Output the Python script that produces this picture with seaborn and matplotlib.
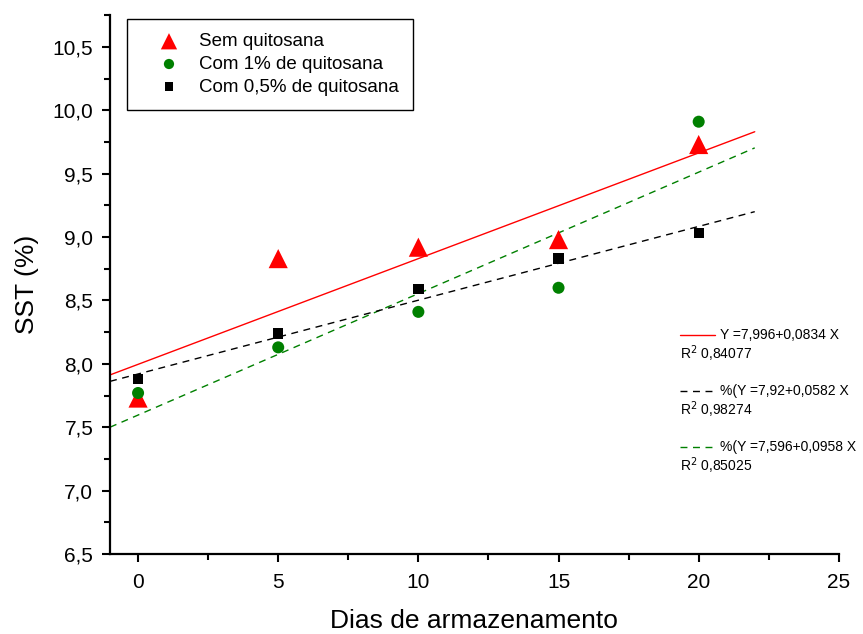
import numpy as np
import pandas as pd
import matplotlib
matplotlib.use("Agg")
import matplotlib.pyplot as plt
from matplotlib.ticker import MultipleLocator, FuncFormatter
import seaborn as sns

# storage days
dias = [0, 5, 10, 15, 20]

# SST (%) per treatment
sem_quitosana = [7.73, 8.83, 8.92, 8.98, 9.73]
com_1 = [7.77, 8.13, 8.41, 8.60, 9.91]
com_05 = [7.88, 8.24, 8.59, 8.83, 9.03]

labels = ["Sem quitosana", "Com 1% de quitosana", "Com 0,5% de quitosana"]

# linear fits printed on the chart
intercepts = [7.996, 7.596, 7.92]
slopes = [0.0834, 0.0958, 0.0582]
r2 = ["0,84077", "0,85025", "0,98274"]
fit_text = ["Y =7,996+0,0834 X", "%(Y =7,596+0,0958 X", "%(Y =7,92+0,0582 X"]

sns.set_style("ticks")
plt.rcParams["font.family"] = ["Liberation Sans", "DejaVu Sans"]
plt.rcParams["text.color"] = "black"
plt.rcParams["axes.labelcolor"] = "black"
plt.rcParams["xtick.color"] = "black"
plt.rcParams["ytick.color"] = "black"

fig = plt.figure(figsize=(8.63, 6.34), dpi=100)
ax = fig.add_axes([0.1275, 0.1262, 0.972 - 0.1275, 0.976 - 0.1262])

df = pd.DataFrame({"dias": dias, "sem": sem_quitosana, "c1": com_1, "c05": com_05})

sns.scatterplot(data=df, x="dias", y="sem", marker="^", color="#ff0000", s=190,
                edgecolor="none", label=labels[0], ax=ax, zorder=3)
sns.scatterplot(data=df, x="dias", y="c1", marker="o", color="#008000", s=75,
                edgecolor="none", label=labels[1], ax=ax, zorder=3)
sns.scatterplot(data=df, x="dias", y="c05", marker="s", color="black", s=55,
                edgecolor="none", label=labels[2], ax=ax, zorder=3)

# fitted lines
xf = np.array([-1, 22])
styles = [("#ff0000", "-"), ("#008000", (0, (5, 4))), ("black", (0, (5, 4)))]
for b0, b1, (c, ls) in zip(intercepts, slopes, styles):
    ax.plot(xf, b0 + b1 * xf, color=c, linestyle=ls, linewidth=1.0, zorder=2)

ax.set_xlim(-1, 25)
ax.set_ylim(6.5, 10.75)
ax.xaxis.set_major_locator(MultipleLocator(5))
ax.xaxis.set_minor_locator(MultipleLocator(2.5))
ax.yaxis.set_major_locator(MultipleLocator(0.5))
ax.yaxis.set_minor_locator(MultipleLocator(0.25))
ax.yaxis.set_major_formatter(FuncFormatter(lambda v, p: f"{v:.1f}".replace(".", ",")))
ax.tick_params(which="major", direction="out", length=6, width=1.5, labelsize=15,
               colors="black")
ax.tick_params(which="minor", direction="out", length=4, width=1.5, colors="black")
ax.tick_params(axis="x", pad=8)
ax.tick_params(axis="y", pad=6)
sns.despine(ax=ax)
for sp in ["left", "bottom"]:
    ax.spines[sp].set_linewidth(1.6)
    ax.spines[sp].set_color("black")

ax.set_xlabel("Dias de armazenamento", fontsize=19, labelpad=12)
ax.set_ylabel("SST (%)", fontsize=19, labelpad=10)

leg = ax.legend(loc="upper left", bbox_to_anchor=(0.023, 0.993), fontsize=13.5,
                frameon=True, fancybox=False, edgecolor="black", framealpha=1,
                handletextpad=0.1, borderpad=0.75, labelspacing=0.3,
                handlelength=3.0, borderaxespad=0, markerscale=0.85)
leg.get_frame().set_linewidth(1.0)

# fit annotations on the right (order: red, black, green)
order = [0, 2, 1]
y_line = [0.472, 0.383, 0.295]
for k, i in enumerate(order):
    yl = y_line[k]
    c, ls = styles[i]
    ax.plot([0.788, 0.828], [yl, yl], transform=fig.transFigure, color=c,
            linestyle=ls, linewidth=1.0, clip_on=False)
    fig.text(0.834, yl, fit_text[i], fontsize=10, va="center", ha="left")
    fig.text(0.788, yl - 0.03, "R$^2$ " + r2[i], fontsize=10, va="center", ha="left")

fig.savefig("out.png", dpi=100)
